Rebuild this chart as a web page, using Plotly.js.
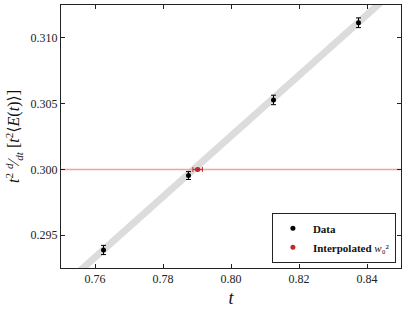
<!DOCTYPE html>
<html>
<head>
<meta charset="utf-8">
<script src="https://cdn.plot.ly/plotly-3.0.1.min.js"></script>
<style>html,body{margin:0;padding:0;background:#fff;}#chart{width:407px;height:309px;}</style>
</head>
<body>
<div id="chart"></div>
<script>
// Data
const dataT = [0.7625, 0.7875, 0.8125, 0.8375];
const dataY = [0.29387, 0.29953, 0.30528, 0.31115];
const dataErr = [0.00035, 0.00030, 0.00036, 0.00037];

const interpT = [0.7902];
const interpY = [0.3000];
const interpErrT = [0.0014];
const interpErrY = [0.00008];

const fitT = [0.75, 0.85];
const fitY = [0.2910, 0.31407];

const refT = [0.75, 0.85];
const refY = [0.300, 0.300];

const xTicks = [0.76, 0.78, 0.80, 0.82, 0.84];
const yTicks = [0.295, 0.300, 0.305, 0.310];

const font = "Liberation Serif, DejaVu Serif, serif";
const tickFont = {family: font, size: 12, color: '#222'};

const traces = [
  {x: fitT, y: fitY, mode: 'lines', line: {color: '#dcdcdc', width: 7}, showlegend: false, hoverinfo: 'skip'},
  {x: refT, y: refY, mode: 'lines', line: {color: '#f4a0a0', width: 1.5}, showlegend: false, hoverinfo: 'skip'},
  {x: dataT, y: dataY, mode: 'markers', name: '<b>Data</b>',
   marker: {color: 'black', size: 5},
   error_y: {type: 'data', array: dataErr, color: 'black', thickness: 1, width: 2.5}},
  {x: interpT, y: interpY, mode: 'markers', name: '<b>Interpolated</b> <i>w</i>₀²',
   marker: {color: '#c0282d', size: 5},
   error_x: {type: 'data', array: interpErrT, color: '#c0282d', thickness: 1, width: 2.5},
   error_y: {type: 'data', array: interpErrY, color: '#c0282d', thickness: 1, width: 2.5}}
];

const layout = {
  width: 407, height: 309,
  margin: {l: 61, r: 6, t: 5, b: 41},
  paper_bgcolor: 'white', plot_bgcolor: 'white',
  font: {family: font, size: 11, color: '#222'},
  showlegend: true,
  legend: {x: 0.985, y: 0.02, xanchor: 'right', yanchor: 'bottom',
           bgcolor: 'white', bordercolor: '#222', borderwidth: 1,
           font: {family: font, size: 11, color: '#111'}, tracegroupgap: 0},
  xaxis: {range: [0.75, 0.85], tickvals: xTicks, tickformat: '.2f', tickfont: tickFont,
          ticks: 'inside', ticklen: 4, tickcolor: '#222', mirror: 'ticks',
          showline: true, linecolor: '#222', linewidth: 1, showgrid: false, zeroline: false,
          title: {text: '<i>t</i>', font: {family: font, size: 18, color: '#111'}, standoff: 5}},
  yaxis: {range: [0.2925, 0.3125], tickvals: yTicks, tickformat: '.3f', tickfont: tickFont,
          ticks: 'inside', ticklen: 4, tickcolor: '#222', mirror: 'ticks',
          showline: true, linecolor: '#222', linewidth: 1, showgrid: false, zeroline: false,
          title: {text: '<i>t</i><sup>2</sup> <sup><i>d</i></sup>⁄<sub><i>dt</i></sub> [<i>t</i><sup>2</sup>⟨<i>E</i>(<i>t</i>)⟩]',
                  font: {family: font, size: 16, color: '#111'}, standoff: 6}}
};

Plotly.newPlot('chart', traces, layout, {displayModeBar: false, staticPlot: true});
</script>
</body>
</html>
